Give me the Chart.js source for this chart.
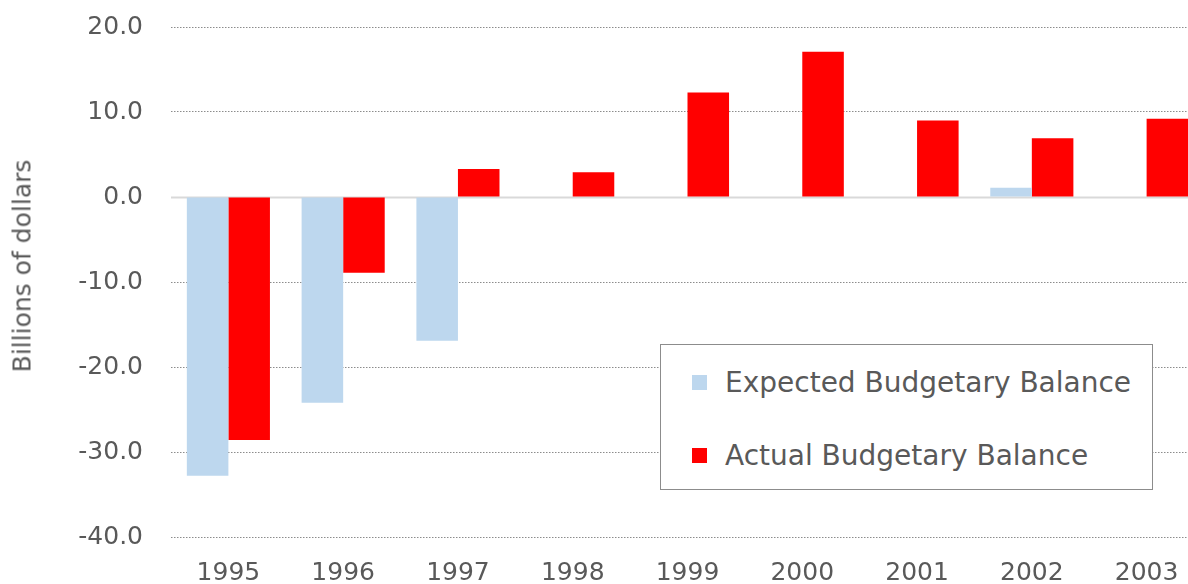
<!DOCTYPE html>
<html>
<head>
<meta charset="utf-8">
<script src="https://cdn.jsdelivr.net/npm/chart.js@4.4.1/dist/chart.umd.min.js"></script>
<style>
  html, body { margin: 0; padding: 0; background: #fff; overflow: hidden; width: 1188px; height: 584px; }
  #wrap { position: absolute; left: 0; top: 0; width: 1204px; height: 600px; }
  #ytitle { position: absolute; left: 22px; top: 266px; transform: translate(-50%, -50%) rotate(-90deg);
    white-space: nowrap; font-family: 'DejaVu Sans', sans-serif; font-size: 25px; color: #595959; }
  #legend { position: absolute; left: 660px; top: 344px; width: 491px; height: 144px;
    border: 1.5px solid #8c8c8c; background: #fff; font-family: 'DejaVu Sans', sans-serif; font-size: 28px; color: #595959; }
  .item { position: absolute; left: 31px; height: 34px; display: flex; align-items: center; white-space: nowrap; }
  .sw { width: 15px; height: 15px; margin-right: 18px; flex: none; }
</style>
</head>
<body>
<div id="wrap"><canvas id="c" width="1204" height="600"></canvas></div>
<div id="ytitle">Billions of dollars</div>
<div id="legend"></div>
<script>
const categories = ['1995','1996','1997','1998','1999','2000','2001','2002','2003'];
const expectedBalance = [-32.8, -24.2, -16.9, 0, 0, 0, 0, 1.1, 0];
const actualBalance = [-28.6, -8.9, 3.3, 2.9, 12.3, 17.1, 9.0, 6.9, 9.2];
const seriesNames = ['Expected Budgetary Balance', 'Actual Budgetary Balance'];
const seriesColors = ['#BDD7EE', '#FF0000'];
const yMin = -40, yMax = 20, yStep = 10;

const FONT = "'DejaVu Sans', sans-serif";
const TXT = '#595959';

const zeroLine = {
  id: 'zeroLine',
  beforeDatasetsDraw(chart) {
    const y = chart.scales.y.getPixelForValue(0);
    const a = chart.chartArea;
    const ctx = chart.ctx;
    ctx.save();
    ctx.strokeStyle = '#D9D9D9';
    ctx.lineWidth = 2;
    ctx.beginPath();
    ctx.moveTo(a.left, y + 0.5);
    ctx.lineTo(a.right, y + 0.5);
    ctx.stroke();
    ctx.restore();
  }
};

new Chart(document.getElementById('c'), {
  type: 'bar',
  data: {
    labels: categories,
    datasets: [
      { label: seriesNames[0], data: expectedBalance, backgroundColor: seriesColors[0] },
      { label: seriesNames[1], data: actualBalance, backgroundColor: seriesColors[1] }
    ]
  },
  options: {
    responsive: false,
    animation: false,
    devicePixelRatio: 1,
    layout: { autoPadding: false, padding: { top: 27, left: 0, right: 0, bottom: 0 } },
    datasets: { bar: { categoryPercentage: 0.724, barPercentage: 1.0 } },
    plugins: { legend: { display: false }, tooltip: { enabled: false } },
    scales: {
      x: {
        grid: { display: false },
        border: { display: false },
        ticks: { color: TXT, font: { family: FONT, size: 25 }, padding: 13, maxRotation: 0 },
        afterFit(s) { s.height = 63; s.paddingLeft = 0; s.paddingRight = 0; }
      },
      y: {
        min: yMin, max: yMax,
        grid: {
          drawTicks: false,
          color: (c) => c.tick && c.tick.value === 0 ? 'rgba(0,0,0,0)' : '#8c8c8c',
          lineWidth: 1
        },
        border: { display: false, dash: [1.5, 1.5] },
        ticks: {
          stepSize: yStep, color: TXT, font: { family: FONT, size: 25 }, padding: 28,
          callback: (v) => Number(v).toFixed(1)
        },
        afterFit(s) { s.width = 171; s.paddingTop = 0; s.paddingBottom = 0; }
      }
    }
  },
  plugins: [zeroLine]
});

const lg = document.getElementById('legend');
const tops = [20, 93];
seriesNames.forEach((n, i) => {
  const d = document.createElement('div');
  d.className = 'item';
  d.style.top = tops[i] + 'px';
  const sw = document.createElement('span');
  sw.className = 'sw';
  sw.style.background = seriesColors[i];
  const t = document.createElement('span');
  t.textContent = n;
  d.appendChild(sw); d.appendChild(t);
  lg.appendChild(d);
});
</script>
</body>
</html>
